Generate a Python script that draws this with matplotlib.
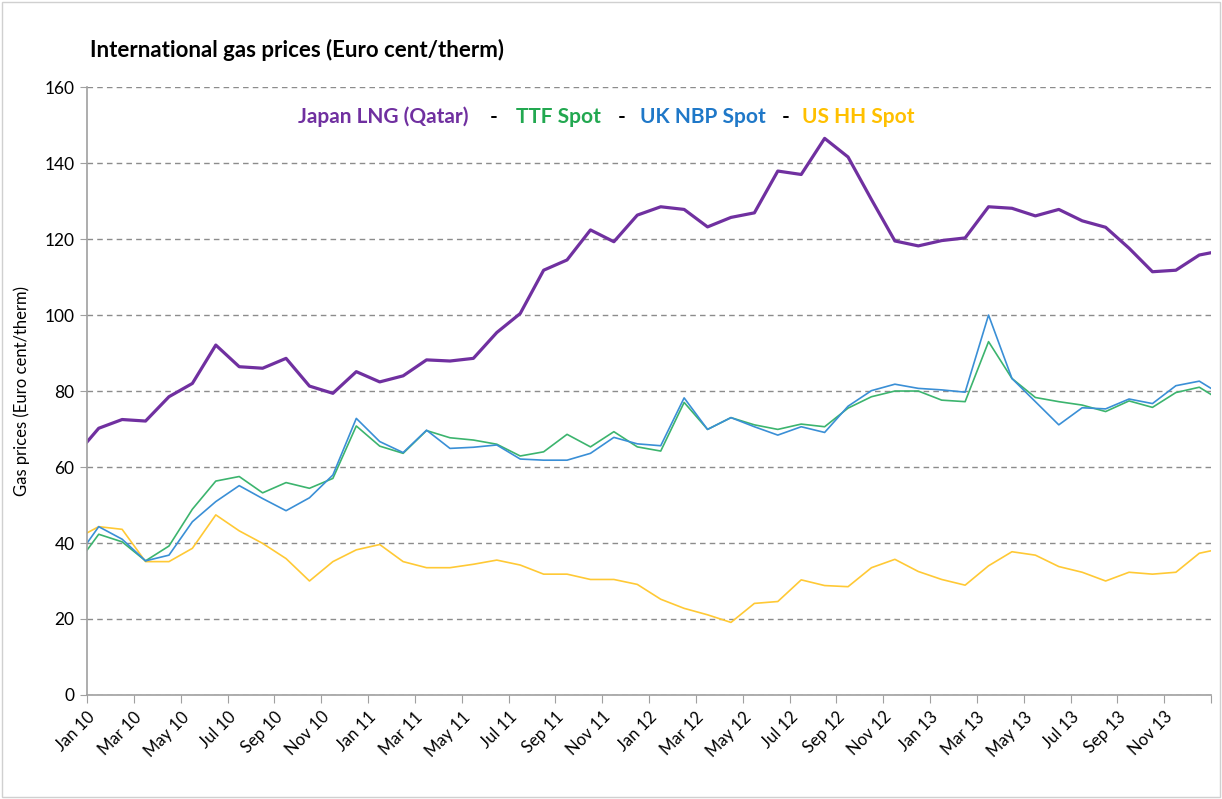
import numpy as np
import matplotlib.pyplot as plt

# monthly values, Dec 09 .. Jan 14 (first and last fall just outside the axis)
months = ['Dec 09',
          'Jan 10', 'Feb 10', 'Mar 10', 'Apr 10', 'May 10', 'Jun 10', 'Jul 10', 'Aug 10', 'Sep 10', 'Oct 10', 'Nov 10', 'Dec 10',
          'Jan 11', 'Feb 11', 'Mar 11', 'Apr 11', 'May 11', 'Jun 11', 'Jul 11', 'Aug 11', 'Sep 11', 'Oct 11', 'Nov 11', 'Dec 11',
          'Jan 12', 'Feb 12', 'Mar 12', 'Apr 12', 'May 12', 'Jun 12', 'Jul 12', 'Aug 12', 'Sep 12', 'Oct 12', 'Nov 12', 'Dec 12',
          'Jan 13', 'Feb 13', 'Mar 13', 'Apr 13', 'May 13', 'Jun 13', 'Jul 13', 'Aug 13', 'Sep 13', 'Oct 13', 'Nov 13', 'Dec 13',
          'Jan 14']

japan_lng = [63.0,
             70.2, 72.5, 72.1, 78.5, 82.0, 92.1, 86.4, 86.0, 88.6, 81.3, 79.4, 85.1,
             82.4, 84.0, 88.2, 87.9, 88.6, 95.4, 100.4, 111.8, 114.5, 122.4, 119.3, 126.3,
             128.5, 127.8, 123.2, 125.7, 126.9, 137.9, 137.0, 146.5, 141.6, 130.4, 119.5, 118.2,
             119.6, 120.3, 128.5, 128.1, 126.1, 127.8, 124.8, 123.1, 117.6, 111.4, 111.8, 115.8,
             117.0]

ttf_spot = [33.9,
            42.3, 40.3, 35.3, 39.2, 48.9, 56.3, 57.5, 53.2, 55.9, 54.4, 57.0, 70.8,
            65.5, 63.6, 69.6, 67.7, 67.1, 66.0, 62.9, 64.0, 68.6, 65.3, 69.3, 65.3,
            64.2, 77.0, 69.9, 73.0, 71.1, 69.9, 71.3, 70.6, 75.5, 78.5, 80.0, 80.0,
            77.6, 77.2, 93.0, 83.3, 78.3, 77.2, 76.3, 74.6, 77.4, 75.7, 79.6, 81.0,
            77.2]

uk_nbp = [35.6,
          44.3, 41.0, 35.3, 36.8, 45.6, 50.9, 55.1, 51.7, 48.5, 51.9, 57.9, 72.8,
          66.7, 63.8, 69.7, 64.9, 65.2, 65.8, 62.1, 61.8, 61.8, 63.6, 67.8, 66.1,
          65.6, 78.2, 69.9, 73.0, 70.6, 68.4, 70.6, 69.1, 76.0, 80.1, 81.8, 80.7,
          80.3, 79.7, 100.0, 83.3, 77.2, 71.1, 75.6, 75.3, 77.9, 76.7, 81.4, 82.6,
          78.8]

us_hh = [41.0,
         44.3, 43.6, 35.1, 35.1, 38.6, 47.4, 43.2, 39.9, 35.9, 30.0, 35.1, 38.2,
         39.6, 35.1, 33.5, 33.5, 34.4, 35.5, 34.2, 31.8, 31.8, 30.4, 30.4, 29.1,
         25.2, 22.8, 21.1, 19.1, 24.1, 24.6, 30.3, 28.8, 28.5, 33.5, 35.7, 32.5,
         30.4, 28.9, 34.0, 37.7, 36.8, 33.8, 32.3, 30.0, 32.3, 31.8, 32.3, 37.3,
         38.6]

tick_labels = ['Jan 10', 'Mar 10', 'May 10', 'Jul 10', 'Sep 10', 'Nov 10',
               'Jan 11', 'Mar 11', 'May 11', 'Jul 11', 'Sep 11', 'Nov 11',
               'Jan 12', 'Mar 12', 'May 12', 'Jul 12', 'Sep 12', 'Nov 12',
               'Jan 13', 'Mar 13', 'May 13', 'Jul 13', 'Sep 13', 'Nov 13']

plt.rcParams['font.family'] = ['Lato', 'DejaVu Sans']

purple = '#7030a0'
green = '#3cb46e'
blue = '#3a8fd6'
yellow = '#ffc935'

# point for each month sits mid-month, Jan 10 starts at 0
x = np.arange(len(months)) - 0.5

fig = plt.figure(figsize=(12.22, 7.99), dpi=100)
ax = fig.add_axes([0.0712, 0.1302, 0.9198, 0.7608])

ax.plot(x, us_hh, color=yellow, lw=1.2)
ax.plot(x, ttf_spot, color=green, lw=1.2)
ax.plot(x, uk_nbp, color=blue, lw=1.2)
ax.plot(x, japan_lng, color=purple, lw=2.3)

ax.set_xlim(0, 48)
ax.set_ylim(0, 160)
ax.set_yticks(range(0, 161, 20))
ax.set_xticks(range(0, 49, 2))
ax.set_xticklabels(tick_labels + [''], rotation=45, ha='right', rotation_mode='anchor')
ax.tick_params(axis='x', length=6, color='#a0a0a0', labelsize=12, pad=4)
ax.tick_params(axis='y', length=5, color='#a0a0a0', labelsize=12.5, pad=4)

ax.grid(axis='y', color='#8c8c8c', linestyle=(0, (4, 3)), lw=1)
for s in ['top', 'right']:
    ax.spines[s].set_visible(False)
for s in ['left', 'bottom']:
    ax.spines[s].set_color('#a0a0a0')
    ax.spines[s].set_linewidth(1.2)

ax.set_ylabel('Gas prices (Euro cent/therm)', fontsize=12, labelpad=10)

fig.text(90 / 1222, 1 - 50 / 799, 'International gas prices (Euro cent/therm)',
         fontsize=16, fontweight='bold', va='center', ha='left')

# legend line made of coloured texts
legend = [('Japan LNG (Qatar)', purple, 298), ('-', 'black', 490),
          ('TTF Spot', '#22a850', 516), ('-', 'black', 618),
          ('UK NBP Spot', '#1f78c8', 640), ('-', 'black', 782),
          ('US HH Spot', '#ffc000', 802)]
for txt, col, px in legend:
    fig.text(px / 1222, 1 - 117 / 799, txt, color=col, fontsize=15,
             fontweight='bold', va='center', ha='left')

fig.patches.append(plt.Rectangle((0.002, 0.002), 0.996, 0.996, transform=fig.transFigure,
                                 fill=False, edgecolor='#d0d0d0', lw=1))

fig.savefig('out.png', dpi=100)
